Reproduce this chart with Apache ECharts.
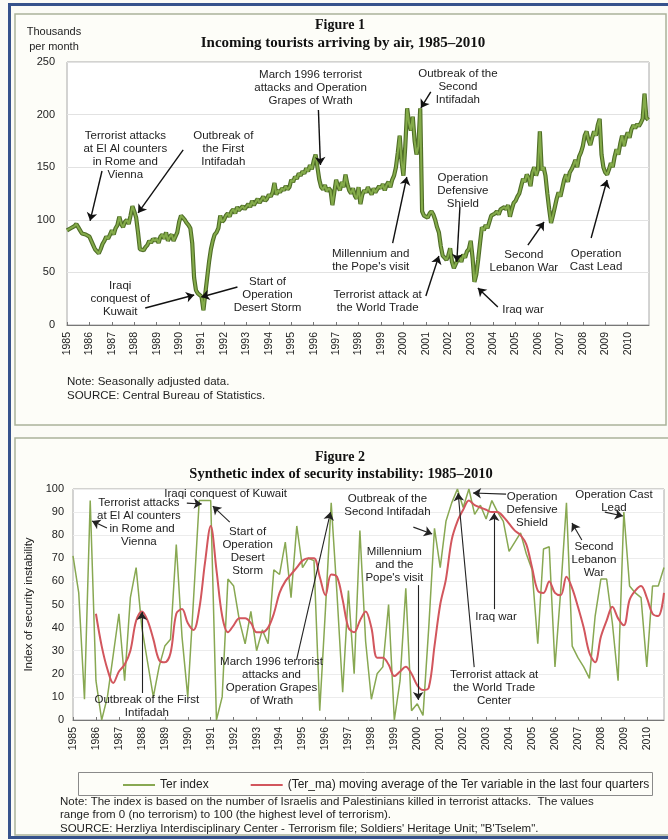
<!DOCTYPE html>
<html><head><meta charset="utf-8">
<script src="https://cdn.jsdelivr.net/npm/echarts/dist/echarts.min.js"></script>
<style>html,body{margin:0;padding:0;background:#fbfbf6}#c{width:668px;height:840px}</style>
</head><body><div id="c"></div><script>
// ---------- DATA ----------
const yearLabels = [1985,1986,1987,1988,1989,1990,1991,1992,1993,1994,1995,1996,1997,1998,1999,2000,2001,2002,2003,2004,2005,2006,2007,2008,2009,2010];

// Figure 1: incoming tourists by air, thousands per month (Jan 1985 - Dec 2010)
const touristsMonthly = [
  90, 91, 92, 91, 94, 96, 93, 90, 87, 86, 86, 85,
  84, 80, 76, 72, 70, 68, 72, 77, 80, 84, 82, 86,
  90, 86, 92, 95, 103, 96, 93, 98, 100, 96, 104, 113,
  108, 102, 88, 72, 73, 71, 74, 76, 80, 78, 82, 80,
  82, 78, 84, 86, 82, 88, 80, 84, 86, 80, 84, 88,
  98, 104, 102, 100, 97, 95, 92, 78, 45, 33, 30, 29,
  27, 14, 30, 45, 60, 72, 80, 86, 88, 92, 104, 98,
  100, 104, 106, 103, 108, 110, 106, 112, 109, 108, 113, 110,
  110, 115, 112, 118, 114, 117, 120, 116, 119, 122, 118, 120,
  124, 122, 126, 135, 124, 128, 126, 130, 128, 132, 129, 131,
  138, 136, 141, 139, 144, 142, 146, 144, 149, 146, 152, 148,
  156, 162, 150, 138, 131, 129, 133, 127, 130, 128, 114, 126,
  138, 132, 128, 136, 131, 143, 134, 128, 125, 130, 123, 120,
  131, 115, 124, 128, 126, 131, 127, 124, 130, 126, 129, 132,
  130, 134, 128, 133, 136, 131, 138, 142, 150, 164, 180, 156,
  142, 170, 206, 192, 185, 198, 175, 162, 170, 206, 108, 104,
  104, 102, 106, 108, 105, 100, 93, 88, 75, 66, 64, 62,
  66, 73, 60, 54, 58, 62, 65, 60, 67, 64, 70, 72,
  80, 64, 41, 48, 62, 78, 93, 90, 95, 92, 98, 104,
  103, 106, 108, 105, 110, 109, 112, 110, 114, 103, 110, 116,
  118, 122, 125, 132, 139, 136, 143, 140, 132, 145, 150, 142,
  148, 184, 147, 150, 142, 125, 110, 97, 104, 112, 120, 126,
  122, 130, 138, 143, 136, 145, 148, 152, 157, 150, 160, 164,
  170, 180, 184, 176, 171, 178, 184, 180, 190, 196, 162, 150,
  145, 143, 148, 154, 150, 160, 167, 162, 172, 180, 170, 178,
  183, 178, 186, 190, 187, 191, 189, 192, 196, 220, 197, 195
];

// Figure 2: quarterly Ter index (1985Q1 - 2010Q4)
const terIndex = [
  71, 55, 9, 95,   17, 0, 10, 28,   46, 17, 53, 66,   40, 25, 10, 23,
  32, 35, 76, 36,  10, 52, 95, 95,  95, 0, 10, 61,   58, 43, 33, 47,
  30, 39, 33, 65,  63, 77, 53, 84,  66, 70, 69, 4,   48, 94, 55, 12,
  56, 20, 82, 34,  9, 20, 23, 50,   0, 17, 57, 4,    7, 2, 40, 83,
  66, 86, 94, 100, 92, 100, 89, 93, 87, 95, 90, 86,  73, 77, 81, 72,
  65, 33, 74, 75,  23, 56, 94, 32,  27, 23, 18, 45,  61, 61, 42, 17,
  90, 58, 55, 53,  23, 58, 58, 66
];
// (Ter_ma) moving average of the last four quarters
const terMA = [
  null, null, null, null,  46, 32, 22, 16,  21, 24, 30, 43,  47, 43, 35, 26,
  25, 29, 46, 48,  42, 39, 48, 68,  84, 65, 45, 38,  41, 44, 44, 42,
  38, 38, 40, 46,  55, 60, 63, 66,  69, 70, 70, 62,  54, 63, 62, 52,
  40, 38, 43, 47,  40, 27, 27, 24,  19, 21, 23, 20,  15, 13, 14, 32,
  50, 61, 78, 86,  91, 95, 93, 92,  91, 90, 90, 88,  85, 82, 80, 76,
  66, 56, 55, 60,  55, 54, 62, 57,  49, 40, 29, 25,  36, 43, 49, 44,
  41, 52, 56, 58,  53, 46, 45, 55
];

// annotations: [text, textX, textY, arrowFromX, arrowFromY, arrowToX, arrowToY] in data units
const notes1 = [
  ['Terrorist attacks\nat El Al counters\nin Rome and\nVienna', 1987.6, 161.6, 1986.56, 146.4, 1986.03, 99],
  ['Outbreak of\nthe First\nIntifadah', 1991.97, 167.3, 1990.18, 166.4, 1988.17, 106.5],
  ['March 1996 terrorist\nattacks and Operation\nGrapes of Wrath', 1995.86, 225.3, 1996.21, 204.4, 1996.30, 152.1],
  ['Iraqi\nconquest of\nKuwait', 1987.37, 24.7, 1988.49, 16.2, 1990.67, 28.5],
  ['Start of\nOperation\nDesert Storm', 1993.94, 28.5, 1992.60, 36.1, 1990.99, 26.6],
  ['Outbreak of the\nSecond\nIntifadah', 2002.43, 226.2, 2001.22, 221.5, 2000.78, 206.3],
  ['Millennium and\nthe Pope\'s visit', 1998.54, 61.8, 1999.52, 77.9, 2000.15, 140.7],
  ['Terrorist attack at\nthe World Trade', 1998.85, 22.8, 2001.0, 27.6, 2001.58, 65.6],
  ['Operation\nDefensive\nShield', 2002.65, 127.4, 2002.52, 112.2, 2002.38, 59.9],
  ['Iraq war', 2005.33, 14.3, 2004.21, 17.1, 2003.32, 35.2],
  ['Second\nLebanon War', 2005.37, 60.8, 2005.55, 76, 2006.27, 97.9],
  ['Operation\nCast Lead', 2008.59, 61.8, 2008.37, 82.7, 2009.08, 137.8]
];
const notes2 = [
  ['Terrorist attacks\nat El Al counters\n  in Rome and\nVienna', 1987.87, 85.7, 1986.48, 83.1, 1985.83, 86.1],
  ['Iraqi conquest of Kuwait', 1991.65, 97.8, 1989.96, 93.9, 1990.61, 93.5],
  ['Start of\nOperation\nDesert\nStorm', 1992.61, 73.2, 1991.83, 85.7, 1991.09, 92.6],
  ['Outbreak of the First\nIntifadah', 1988.22, 6.1, 1988.0, 11.7, 1988.0, 46.8],
  ['March 1996 terrorist\nattacks and\nOperation Grapes\nof Wrath', 1993.65, 16.9, 1994.74, 26, 1996.22, 90],
  ['Outbreak of the\nSecond Intifadah', 1998.70, 93.1, 1999.83, 83.5, 2000.65, 80.5],
  ['Millennium\nand the\nPope\'s visit', 1999.0, 67.1, 2000.04, 58.4, 2000.04, 8.7],
  ['Terrorist attack at\nthe World Trade\nCenter', 2003.35, 13.9, 2002.48, 22.9, 2001.78, 98.3],
  ['Iraq war', 2003.43, 44.6, 2003.35, 48, 2003.35, 89.6],
  ['Operation\nDefensive\nShield', 2005.0, 90.9, 2003.87, 97.8, 2002.43, 98.3],
  ['Second\nLebanon\nWar', 2007.7, 69.3, 2007.17, 77.9, 2006.74, 85.3],
  ['Operation Cast\nLead', 2008.57, 94.8, 2008.17, 90, 2008.96, 88.3]
];

// ---------- BUILD ----------
const NARROW = "'Liberation Sans Narrow','Arial Narrow','Liberation Sans',Arial,sans-serif";
const SANS = "'Liberation Sans',Arial,sans-serif";
const SERIF = "'Liberation Serif','Times New Roman',serif";

const fig1Data = touristsMonthly.map((v, i) => [yearLabels[0] + i / 12, v]);
const fig2Ter = terIndex.map((v, i) => [yearLabels[0] + i / 4, v]);
const fig2MA = terMA.map((v, i) => [yearLabels[0] + i / 4, v]);

function markPts(notes) {
  return notes.map(n => ({ coord: [n[1], n[2]], name: n[0] }));
}
function markLns(notes) {
  return notes.map(n => [{ coord: [n[3], n[4]] }, { coord: [n[5], n[6]] }]);
}
const annoLabel = { show: true, position: 'inside', formatter: '{b}', color: '#222', fontFamily: NARROW, fontSize: 11.5, lineHeight: 13, align: 'center', verticalAlign: 'middle' };

const yearFmt = v => (Math.abs(v - Math.round(v)) < 1e-6 && v <= 2010) ? String(Math.round(v)) : '';

function ctext(x, y, text, font, extra) {
  return Object.assign({ type: 'text', x: x, y: y, z: 6,
    style: Object.assign({ text: text, font: font, fill: '#111', align: 'center', textAlign: 'center', verticalAlign: 'top', textVerticalAlign: 'top' }, extra || {}) });
}

const chart = echarts.init(document.getElementById('c'));
const option = {
  animation: false,
  backgroundColor: '#fbfbf6',
  graphic: { elements: [
    { type: 'rect', z: -10, shape: { x: 9.5, y: 4.5, width: 700, height: 833 }, style: { fill: '#fbfbf6', stroke: '#36528c', lineWidth: 3 } },
    { type: 'rect', z: -9, shape: { x: 15, y: 14, width: 651, height: 411 }, style: { fill: '#fdfdf8', stroke: '#aab39a', lineWidth: 1.5 } },
    { type: 'rect', z: -9, shape: { x: 15, y: 438, width: 665, height: 397 }, style: { fill: '#fdfdf8', stroke: '#aab39a', lineWidth: 1.5 } },
    ctext(340, 18, 'Figure 1', 'bold 14px ' + SERIF),
    ctext(343, 36, 'Incoming tourists arriving by air, 1985\u20132010', 'bold 15px ' + SERIF),
    ctext(54, 24, 'Thousands\nper month', '11px ' + NARROW, { lineHeight: 15, fill: '#222' }),
    { type: 'text', x: 67, y: 375, style: { text: 'Note: Seasonally adjusted data.\nSOURCE: Central Bureau of Statistics.', font: '11.5px ' + NARROW, lineHeight: 14, fill: '#222' } },
    ctext(340, 450, 'Figure 2', 'bold 14px ' + SERIF),
    ctext(341, 467, 'Synthetic index of security instability: 1985\u20132010', 'bold 14.5px ' + SERIF),
    { type: 'rect', z: 5, shape: { x: 78.5, y: 772.5, width: 574, height: 23 }, style: { fill: 'rgba(0,0,0,0)', stroke: '#8a8a8a', lineWidth: 1 } },
    { type: 'text', x: 60, y: 795, style: { text: 'Note: The index is based on the number of Israelis and Palestinians killed in terrorist attacks.  The values\nrange from 0 (no terrorism) to 100 (the highest level of terrorism).\nSOURCE: Herzliya Interdisciplinary Center - Terrorism file; Soldiers\' Heritage Unit; "B\'Tselem".', font: '11.5px ' + NARROW, lineHeight: 13.5, fill: '#222' } }
  ]},
  legend: {
    data: ['Ter index', '(Ter_ma) moving average of the Ter variable in the last four quarters'],
    left: 118, top: 774, itemWidth: 32, itemHeight: 2, itemGap: 42, icon: 'rect',
    textStyle: { fontFamily: NARROW, fontSize: 12, color: '#222' }
  },
  grid: [
    { left: 67, right: 19, top: 62, bottom: 515, show: true, backgroundColor: '#ffffff', borderColor: '#a8a8a8', borderWidth: 1 },
    { left: 73, right: 4, top: 489, bottom: 120, show: true, backgroundColor: '#ffffff', borderColor: '#a8a8a8', borderWidth: 1 }
  ],
  xAxis: [
    { type: 'value', gridIndex: 0, min: 1985, max: 2010.95, interval: 1,
      axisLine: { lineStyle: { color: '#777' } }, axisTick: { inside: true, length: 3, lineStyle: { color: '#777' } },
      splitLine: { show: false },
      axisLabel: { rotate: 90, formatter: yearFmt, fontFamily: NARROW, fontSize: 10.5, color: '#222', margin: 7, showMaxLabel: false } },
    { type: 'value', gridIndex: 1, min: 1985, max: 2010.75, interval: 1,
      axisLine: { lineStyle: { color: '#777' } }, axisTick: { inside: true, length: 3, lineStyle: { color: '#777' } },
      splitLine: { show: false },
      axisLabel: { rotate: 90, formatter: yearFmt, fontFamily: NARROW, fontSize: 10.5, color: '#222', margin: 7, showMaxLabel: false } }
  ],
  yAxis: [
    { type: 'value', gridIndex: 0, min: 0, max: 250, interval: 50,
      axisLine: { show: false }, axisTick: { show: false },
      splitLine: { lineStyle: { color: '#e2e2e2' } },
      axisLabel: { fontFamily: SANS, fontSize: 11, color: '#222', margin: 12 } },
    { type: 'value', gridIndex: 1, min: 0, max: 100, interval: 10,
      axisLine: { show: false }, axisTick: { show: false },
      splitLine: { lineStyle: { color: '#ececec' } },
      name: 'Index of security instability', nameLocation: 'middle', nameRotate: 90, nameGap: 18,
      nameTextStyle: { fontFamily: NARROW, fontSize: 11.5, color: '#222' },
      axisLabel: { fontFamily: SANS, fontSize: 11, color: '#222', margin: 9 } }
  ],
  series: [
    { name: 'tourists-outline', type: 'line', xAxisIndex: 0, yAxisIndex: 0, data: fig1Data, showSymbol: false,
      lineStyle: { color: '#4f6d27', width: 4.2 }, z: 2 },
    { name: 'tourists', type: 'line', xAxisIndex: 0, yAxisIndex: 0, data: fig1Data, showSymbol: false,
      lineStyle: { color: '#84ab4a', width: 2 }, z: 3,
      markPoint: { symbol: 'circle', symbolSize: 0, label: annoLabel, data: markPts(notes1), silent: true },
      markLine: { silent: true, symbol: ['none', 'arrow'], symbolSize: 8, label: { show: false },
        lineStyle: { color: '#111', width: 1.4, type: 'solid' }, data: markLns(notes1) } },
    { name: 'Ter index', type: 'line', xAxisIndex: 1, yAxisIndex: 1, data: fig2Ter, showSymbol: false,
      lineStyle: { color: '#88a852', width: 1.5 }, itemStyle: { color: '#88a852' }, z: 2,
      markPoint: { symbol: 'circle', symbolSize: 0, label: annoLabel, data: markPts(notes2), silent: true },
      markLine: { silent: true, symbol: ['none', 'arrow'], symbolSize: 8, label: { show: false },
        lineStyle: { color: '#222', width: 1.1, type: 'solid' }, data: markLns(notes2) } },
    { name: '(Ter_ma) moving average of the Ter variable in the last four quarters', type: 'line', xAxisIndex: 1, yAxisIndex: 1,
      data: fig2MA, showSymbol: false, smooth: 0.35, connectNulls: false,
      lineStyle: { color: '#d2565d', width: 2 }, itemStyle: { color: '#d2565d' }, z: 3 }
  ]
};
chart.setOption(option);
</script></body></html>
